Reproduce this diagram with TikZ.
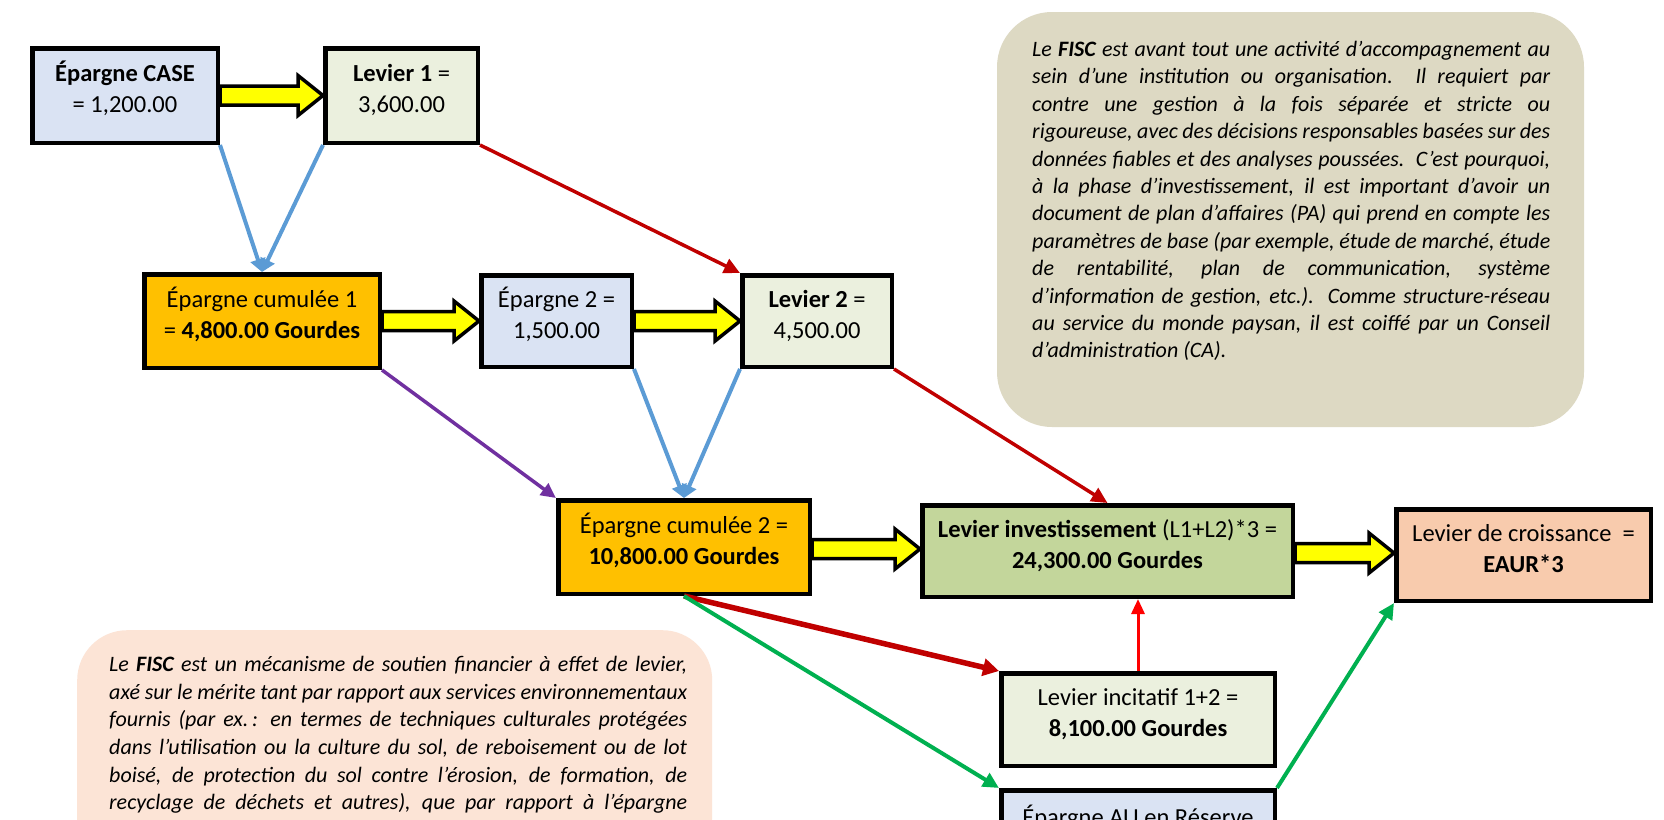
\documentclass[tikz,border=0pt]{standalone}
\usepackage{fontspec}
\setmainfont{Carlito}
\usetikzlibrary{arrows.meta,calc}
\definecolor{cblue}{HTML}{DAE3F3}
\definecolor{cgreenl}{HTML}{EBF0DE}
\definecolor{cgold}{HTML}{FFC000}
\definecolor{colive}{HTML}{C3D69B}
\definecolor{cpeach}{HTML}{F8CBAD}
\definecolor{ctan}{HTML}{DDD9C3}
\definecolor{cpeachl}{HTML}{FCE4D6}
\definecolor{lblue}{HTML}{5B9BD5}
\definecolor{dred}{HTML}{C00000}
\definecolor{lpurple}{HTML}{7030A0}
\definecolor{lgreen}{HTML}{00B050}
\definecolor{fyellow}{HTML}{FFFF00}
\newcommand\fatarr[2]{%
  \draw[fatarrow] let \p1=(#1.east), \p2=(#2.west), \n1={\x2-\x1} in
    (\x1,{0.5*\y1+0.5*\y2}) ++(0,9.5) -- ++({\n1-25},0) -- ++(0,10.5)
    -- ++(25,-20) -- ++(-25,-20) -- ++(0,10.5) -- ++({-\n1+25},0) -- cycle;}
\begin{document}
\begin{tikzpicture}[x=1pt,y=-1pt,
  box/.style={draw=black, line width=4.5pt, align=center, inner sep=0pt,
    text height=42pt, text depth=8pt,
    font=\fontsize{24.5}{31}\selectfont},
  fatarrow/.style={draw=black, fill=fyellow, line width=3.5pt, line join=miter},
  blueconn/.style={draw=lblue, line width=4pt, -{Triangle[length=13pt,width=15pt]}},
  redconn/.style={draw=dred, line width=3.5pt, -{Triangle[length=16pt,width=15pt]}},
  thickred/.style={draw=dred, line width=5.5pt, -{Triangle[length=16pt,width=17pt]}},
  purpconn/.style={draw=lpurple, line width=3.5pt, -{Triangle[length=15pt,width=14pt]}},
  greenconn/.style={draw=lgreen, line width=4pt, -{Triangle[length=16pt,width=15pt]}},
  brightred/.style={draw=red, line width=3pt, -{Triangle[length=15pt,width=13pt]}},
  notetext/.style={anchor=north west, inner sep=0pt, align=justify,
    font=\fontsize{22}{27.4}\selectfont\itshape},
]
\fill[white] (0,0) rectangle (1664,819);
\begin{scope}
\clip (0,0) rectangle (1664,819);

% callouts
\node[fill=ctan, rounded corners=55pt, minimum width=587pt, minimum height=415pt, inner sep=0pt] (note1) at (1290.5,219.5) {};
\node[notetext, text width=518pt] (note1txt) at (1032,41) {\hyphenpenalty=10000 \exhyphenpenalty=10000
Le \textbf{FISC} est avant tout une activité d’accompagnement au\linebreak
sein d’une institution ou organisation.\ \ Il requiert par\linebreak
contre une gestion à la fois séparée et stricte ou\linebreak
rigoureuse, avec des décisions responsables basées sur des\linebreak
données fiables et des analyses poussées.\ \ C’est pourquoi,\linebreak
à la phase d’investissement, il est important d’avoir un\linebreak
document de plan d’affaires (PA) qui prend en compte les\linebreak
paramètres de base (par exemple, étude de marché, étude\linebreak
de rentabilité, plan de communication, système\linebreak
d’information de gestion, etc.). Comme structure-réseau\linebreak
au service du monde paysan, il est coiffé par un Conseil\linebreak
d’administration (CA).};

\node[fill=cpeachl, rounded corners=50pt, minimum width=635pt, minimum height=320pt, inner sep=0pt, anchor=north west] (note2) at (77,630) {};
\node[notetext, text width=578pt, font=\fontsize{22}{27.7}\selectfont\itshape] (note2txt) at (109,656) {\hyphenpenalty=10000 \exhyphenpenalty=10000
Le \textbf{FISC} est un mécanisme de soutien financier à effet de levier,\linebreak
axé sur le mérite tant par rapport aux services environnementaux\linebreak
fournis (par ex.\,: en termes de techniques culturales protégées\linebreak
dans l’utilisation ou la culture du sol, de reboisement ou de lot\linebreak
boisé, de protection du sol contre l’érosion, de formation, de\linebreak
recyclage de déchets et autres), que par rapport à l’épargne\parfillskip=0pt\par};

% boxes
\node[box, fill=cblue, minimum width=185.5pt, minimum height=94.5pt] (ecase) at (125,95.5) {\textbf{Épargne CASE}\\= 1,200.00};
\node[box, fill=cgreenl, minimum width=152.5pt, minimum height=94.5pt] (lev1) at (401.5,95.5) {\textbf{Levier 1} =\\3,600.00};
\node[box, fill=cgold, minimum width=235.5pt, minimum height=93.5pt] (cum1) at (262,321) {Épargne cumulée 1\\= \textbf{4,800.00 Gourdes}};
\node[box, fill=cblue, minimum width=150.5pt, minimum height=91.5pt] (ep2) at (556.5,321) {Épargne 2 =\\1,500.00};
\node[box, fill=cgreenl, minimum width=149.5pt, minimum height=91.5pt] (lev2) at (817,321) {\textbf{Levier 2} =\\4,500.00};
\node[box, fill=cgold, minimum width=251.5pt, minimum height=93.5pt] (cum2) at (684,547) {Épargne cumulée 2 =\\\textbf{10,800.00 Gourdes}};
\node[box, fill=colive, minimum width=370.5pt, minimum height=91.5pt] (linv) at (1107.5,551) {\textbf{Levier investissement} (L1+L2)*3 =\\\textbf{24,300.00 Gourdes}};
\node[box, fill=cpeach, minimum width=254.5pt, minimum height=91.5pt] (lcro) at (1523.5,555) {Levier de croissance\ \ =\\\textbf{EAUR*3}};
\node[box, fill=cgreenl, minimum width=273.5pt, minimum height=92.5pt] (linc) at (1138,719.5) {Levier incitatif 1+2 =\\\textbf{8,100.00 Gourdes}};
\node[box, fill=cblue, minimum width=273.5pt, minimum height=97.5pt] (epau) at (1138,839) {Épargne AU en Réserve\\\phantom{0}};

% fat yellow arrows
\fatarr{ecase}{lev1}
\fatarr{cum1}{ep2}
\fatarr{ep2}{lev2}
\fatarr{cum2}{linv}
\fatarr{linv}{lcro}

% connectors
\draw[blueconn] (ecase.south east) -- (cum1.north);
\draw[blueconn] (lev1.south west) -- (cum1.north);
\draw[blueconn] (ep2.south east) -- (cum2.north);
\draw[blueconn] (lev2.south west) -- (cum2.north);
\draw[purpconn] (cum1.south east) -- (cum2.north west);
\draw[redconn] (lev1.south east) -- (lev2.north west);
\draw[redconn] (lev2.south east) -- (linv.north);
\draw[thickred] (cum2.south) -- (linc.north west);
\draw[greenconn] (cum2.south) -- (epau.north west);
\draw[greenconn] (epau.north east) -- (lcro.south west);
\draw[brightred] (linc.north) -- (linc.north |- linv.south);
\end{scope}
\pgfresetboundingbox
\path[use as bounding box] (0,0) rectangle (1664,819);
\end{tikzpicture}
\end{document}
